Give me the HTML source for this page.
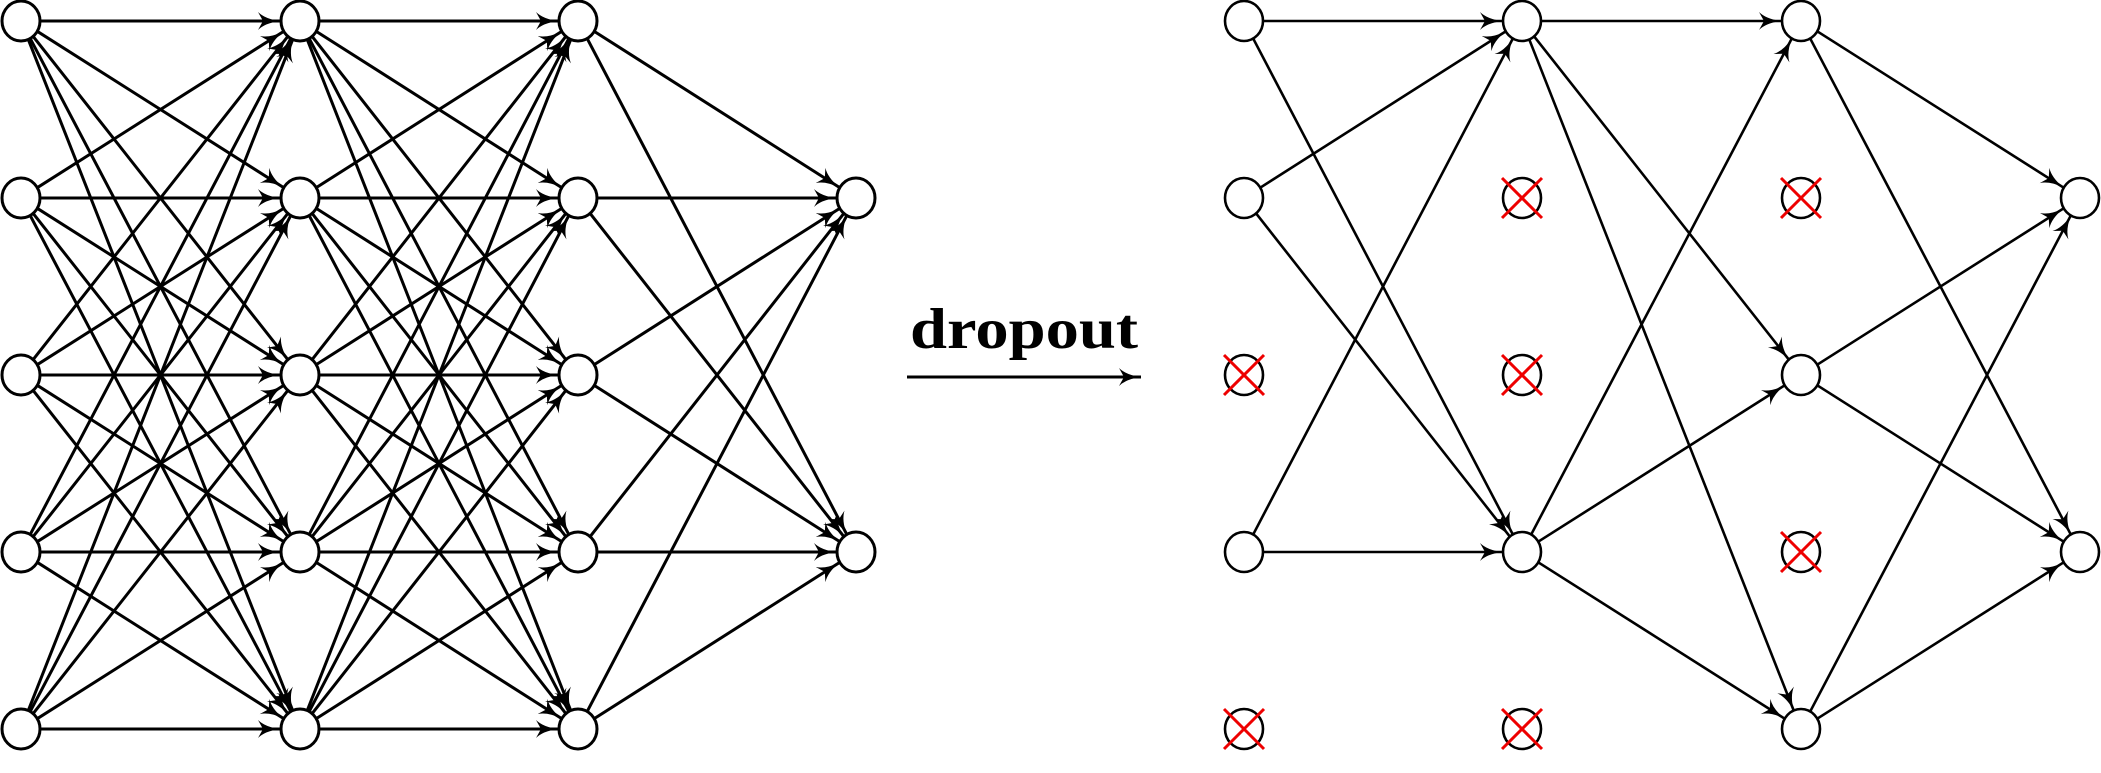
<!DOCTYPE html>
<html><head><meta charset="utf-8"><style>
html,body{margin:0;padding:0;background:#fff;}
svg{display:block;}
</style></head><body>
<svg id="s" width="2101" height="773" viewBox="0 0 2101 773" xmlns="http://www.w3.org/2000/svg">
<defs>
<marker id="a" markerUnits="userSpaceOnUse" markerWidth="26" markerHeight="22" refX="22" refY="9" orient="auto">
<path d="M0,0 Q7,7 22,9 Q7,11 0,18 L5,9 Z" fill="#000"/>
</marker>
</defs>
<g id="g"></g>
<text x="910" y="348" font-family="Liberation Serif, serif" font-weight="bold" font-size="57" textLength="228" lengthAdjust="spacingAndGlyphs">dropout</text>
<line x1="907" y1="377" x2="1141" y2="377" stroke="#000" stroke-width="3" marker-end="url(#a)"/>
</svg>
<script>
var g=document.getElementById('g'),NS='http://www.w3.org/2000/svg',R=19;
var rows=[21,198,375,552,729];
function el(n,a){var e=document.createElementNS(NS,n);for(var k in a)e.setAttribute(k,a[k]);g.appendChild(e);return e;}
function edge(x1,y1,x2,y2,w){var dx=x2-x1,dy=y2-y1,L=Math.hypot(dx,dy),ux=dx/L,uy=dy/L;
el('line',{x1:x1+ux*R,y1:y1+uy*R,x2:x2-ux*(R+1),y2:y2-uy*(R+1),stroke:'#000','stroke-width':w,'marker-end':'url(#a)'});}
function node(x,y,w,drop){el('ellipse',{cx:x,cy:y,rx:R,ry:R+1,fill:'#fff',stroke:'#000','stroke-width':w});
if(drop){el('line',{x1:x-20,y1:y-20,x2:x+20,y2:y+20,stroke:'#e00','stroke-width':3});el('line',{x1:x+20,y1:y-20,x2:x-20,y2:y+20,stroke:'#e00','stroke-width':3});}}
var LX=[21,300,578,856],full=[0,1,2,3,4],out=[1,3];
var L=[full,full,full,out];
for(var l=0;l<3;l++)for(var i of L[l])for(var j of L[l+1])edge(LX[l],rows[i],LX[l+1],rows[j],3);
for(var l=0;l<4;l++)for(var i of L[l])node(LX[l],rows[i],3,false);
var RX=[1244,1522,1801,2080];
var act=[[0,1,3],[0,3],[0,2,4],[1,3]];
for(var l=0;l<3;l++)for(var i of act[l])for(var j of act[l+1])edge(RX[l],rows[i],RX[l+1],rows[j],2.6);
for(var l=0;l<4;l++){var n=(l==3)?[1,3]:full;for(var i of n)node(RX[l],rows[i],2.6,act[l].indexOf(i)<0);}
</script>
</body></html>
